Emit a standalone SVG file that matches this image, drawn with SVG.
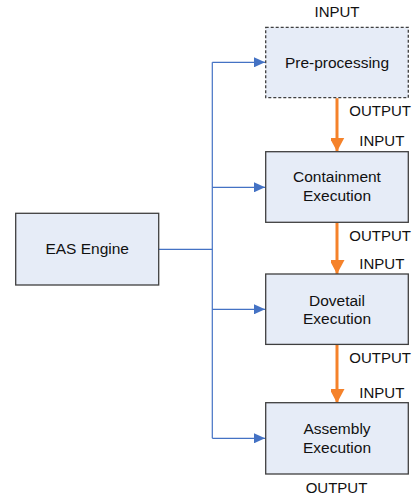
<svg xmlns="http://www.w3.org/2000/svg" width="414" height="499" viewBox="0 0 414 499">
<style>
.box{fill:#E6ECF7;stroke:#3F3F3F;stroke-width:1.3}
.dash{stroke-dasharray:3,2}
.t{font-family:"Liberation Sans",Arial,sans-serif;font-size:15.5px;fill:#111;text-anchor:middle}
.l{font-family:"Liberation Sans",Arial,sans-serif;font-size:15px;fill:#111}
.blue{fill:none;stroke:#4472C4;stroke-width:1.2}
.orange{fill:none;stroke:#F5822A;stroke-width:3}
</style>
<defs>
<marker id="ab" markerWidth="11" markerHeight="10" refX="11" refY="5" orient="auto" markerUnits="userSpaceOnUse">
<path d="M0,0 L11,5 L0,10 Z" fill="#4472C4"/>
</marker>
<marker id="ao" markerWidth="15" markerHeight="14" refX="14" refY="7.5" orient="auto" markerUnits="userSpaceOnUse">
<path d="M0,0 L14,7.5 L0,15 Z" fill="#F5822A"/>
</marker>
</defs>
<g id="connectors">
<path class="blue" d="M158.7,249.3 H212.3"/>
<path class="blue" d="M212.3,62.3 V438.3"/>
<path class="blue" d="M212.3,62.3 H265" marker-end="url(#ab)"/>
<path class="blue" d="M212.3,187.3 H265" marker-end="url(#ab)"/>
<path class="blue" d="M212.3,309.3 H265" marker-end="url(#ab)"/>
<path class="blue" d="M212.3,438.3 H265" marker-end="url(#ab)"/>
<path class="orange" d="M337,98.2 V151.5" marker-end="url(#ao)"/>
<path class="orange" d="M337,222.8 V274" marker-end="url(#ao)"/>
<path class="orange" d="M337,345 V403" marker-end="url(#ao)"/>
</g>
<g id="eas">
<rect class="box" x="15.7" y="213.3" width="143" height="71.7"/>
<text class="t" x="87.2" y="254.3">EAS Engine</text>
</g>
<g id="pre">
<rect class="box dash" x="265.7" y="27.3" width="142.6" height="70.4"/>
<text class="t" x="337" y="68">Pre-processing</text>
</g>
<g id="containment">
<rect class="box" x="265.7" y="151.7" width="142.6" height="70.6"/>
<text class="t" x="337" y="182.3">Containment</text>
<text class="t" x="337" y="201">Execution</text>
</g>
<g id="dovetail">
<rect class="box" x="265.7" y="274" width="142.6" height="70.4"/>
<text class="t" x="337" y="305.7">Dovetail</text>
<text class="t" x="337" y="324">Execution</text>
</g>
<g id="assembly">
<rect class="box" x="265.7" y="402.7" width="142.6" height="71.3"/>
<text class="t" x="337" y="434">Assembly</text>
<text class="t" x="337" y="452.7">Execution</text>
</g>
<g id="labels">
<text class="l" x="337" y="17" text-anchor="middle">INPUT</text>
<text class="l" x="349.3" y="116">OUTPUT</text>
<text class="l" x="359.3" y="146">INPUT</text>
<text class="l" x="349.3" y="240.7">OUTPUT</text>
<text class="l" x="359.3" y="269.3">INPUT</text>
<text class="l" x="349.3" y="363.3">OUTPUT</text>
<text class="l" x="359.3" y="397.7">INPUT</text>
<text class="l" x="336.5" y="493.3" text-anchor="middle">OUTPUT</text>
</g>
</svg>
